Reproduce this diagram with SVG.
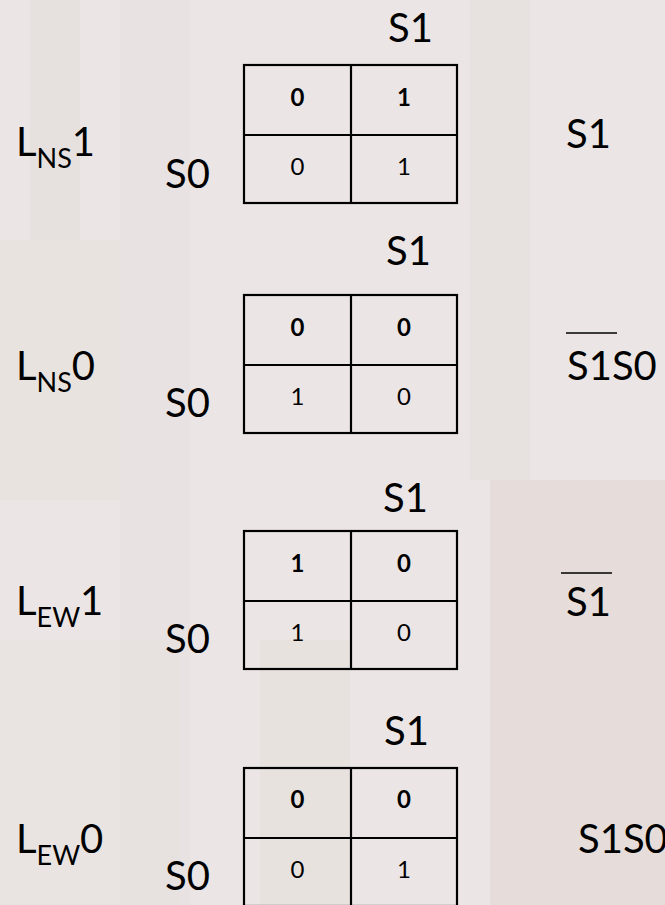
<svg xmlns="http://www.w3.org/2000/svg" width="665" height="905" viewBox="0 0 665 905">
<style>
.lbl{font-family:Lato,"Liberation Sans",sans-serif;font-size:40px;fill:#000}
.sub{font-size:27px}
.cell{font-family:Lato,"Liberation Sans",sans-serif;font-size:24px;text-anchor:middle;fill:#000}
.b{font-weight:700}
.grid{fill:none;stroke:#000;stroke-width:2.2}
.bar{stroke:#000;stroke-width:1.6}
</style>
<defs>
<g id="kgrid">
<rect class="grid" x="244" y="0" width="213" height="138"/>
<line class="grid" x1="351" y1="0" x2="351" y2="138"/>
<line class="grid" x1="244" y1="70" x2="457" y2="70"/>
</g>
</defs>
<g id="background">
<rect x="0" y="0" width="665" height="905" fill="#ebe6e5"/>
<rect x="30" y="0" width="50" height="240" fill="#d9d2cc" opacity="0.25"/>
<rect x="0" y="240" width="120" height="260" fill="#e2ddd0" opacity="0.3"/>
<rect x="120" y="0" width="70" height="905" fill="#e4dcdc" opacity="0.3"/>
<rect x="470" y="0" width="60" height="480" fill="#ddd6d2" opacity="0.25"/>
<rect x="490" y="480" width="175" height="425" fill="#e0d3cc" opacity="0.45"/>
<rect x="0" y="640" width="180" height="265" fill="#e5dfda" opacity="0.35"/>
<rect x="260" y="640" width="90" height="265" fill="#ddd8cc" opacity="0.25"/>
</g>
<g id="connectors"/>
<g id="kmap1" transform="translate(0,65)">
<use href="#kgrid"/>
<text class="lbl" x="388" y="-23">S1</text>
<text class="lbl" x="165" y="123">S0</text>
<text class="cell b" x="297.5" y="41">0</text>
<text class="cell b" x="404" y="41">1</text>
<text class="cell" x="297.5" y="110">0</text>
<text class="cell" x="404" y="110">1</text>
</g>
<g id="kmap2" transform="translate(0,295)">
<use href="#kgrid"/>
<text class="lbl" x="386" y="-30">S1</text>
<text class="lbl" x="165" y="122">S0</text>
<text class="cell b" x="297.5" y="41">0</text>
<text class="cell b" x="404" y="41">0</text>
<text class="cell" x="297.5" y="110">1</text>
<text class="cell" x="404" y="110">0</text>
</g>
<g id="kmap3" transform="translate(0,531)">
<use href="#kgrid"/>
<text class="lbl" x="383" y="-19">S1</text>
<text class="lbl" x="165" y="122">S0</text>
<text class="cell b" x="297.5" y="41">1</text>
<text class="cell b" x="404" y="41">0</text>
<text class="cell" x="297.5" y="110">1</text>
<text class="cell" x="404" y="110">0</text>
</g>
<g id="kmap4" transform="translate(0,768)">
<use href="#kgrid"/>
<text class="lbl" x="384" y="-23">S1</text>
<text class="lbl" x="165" y="122">S0</text>
<text class="cell b" x="297.5" y="40">0</text>
<text class="cell b" x="404" y="40">0</text>
<text class="cell" x="297.5" y="110">0</text>
<text class="cell" x="404" y="110">1</text>
</g>
<g id="label-LNS1"><text class="lbl" x="16" y="156">L<tspan class="sub" dy="12">NS</tspan><tspan dy="-12">1</tspan></text></g>
<g id="label-LNS0"><text class="lbl" x="16" y="380">L<tspan class="sub" dy="12">NS</tspan><tspan dy="-12">0</tspan></text></g>
<g id="label-LEW1"><text class="lbl" x="16" y="615">L<tspan class="sub" dy="12">EW</tspan><tspan dy="-12">1</tspan></text></g>
<g id="label-LEW0"><text class="lbl" x="16" y="853">L<tspan class="sub" dy="12">EW</tspan><tspan dy="-12">0</tspan></text></g>
<g id="expr1"><text class="lbl" x="566" y="148">S1</text></g>
<g id="expr2"><text class="lbl" x="567" y="380">S1S0</text><line class="bar" x1="566" y1="333" x2="617" y2="333"/></g>
<g id="expr3"><text class="lbl" x="566" y="616">S1</text><line class="bar" x1="561" y1="573" x2="612" y2="573"/></g>
<g id="expr4"><text class="lbl" x="578" y="853">S1S0</text></g>
</svg>
